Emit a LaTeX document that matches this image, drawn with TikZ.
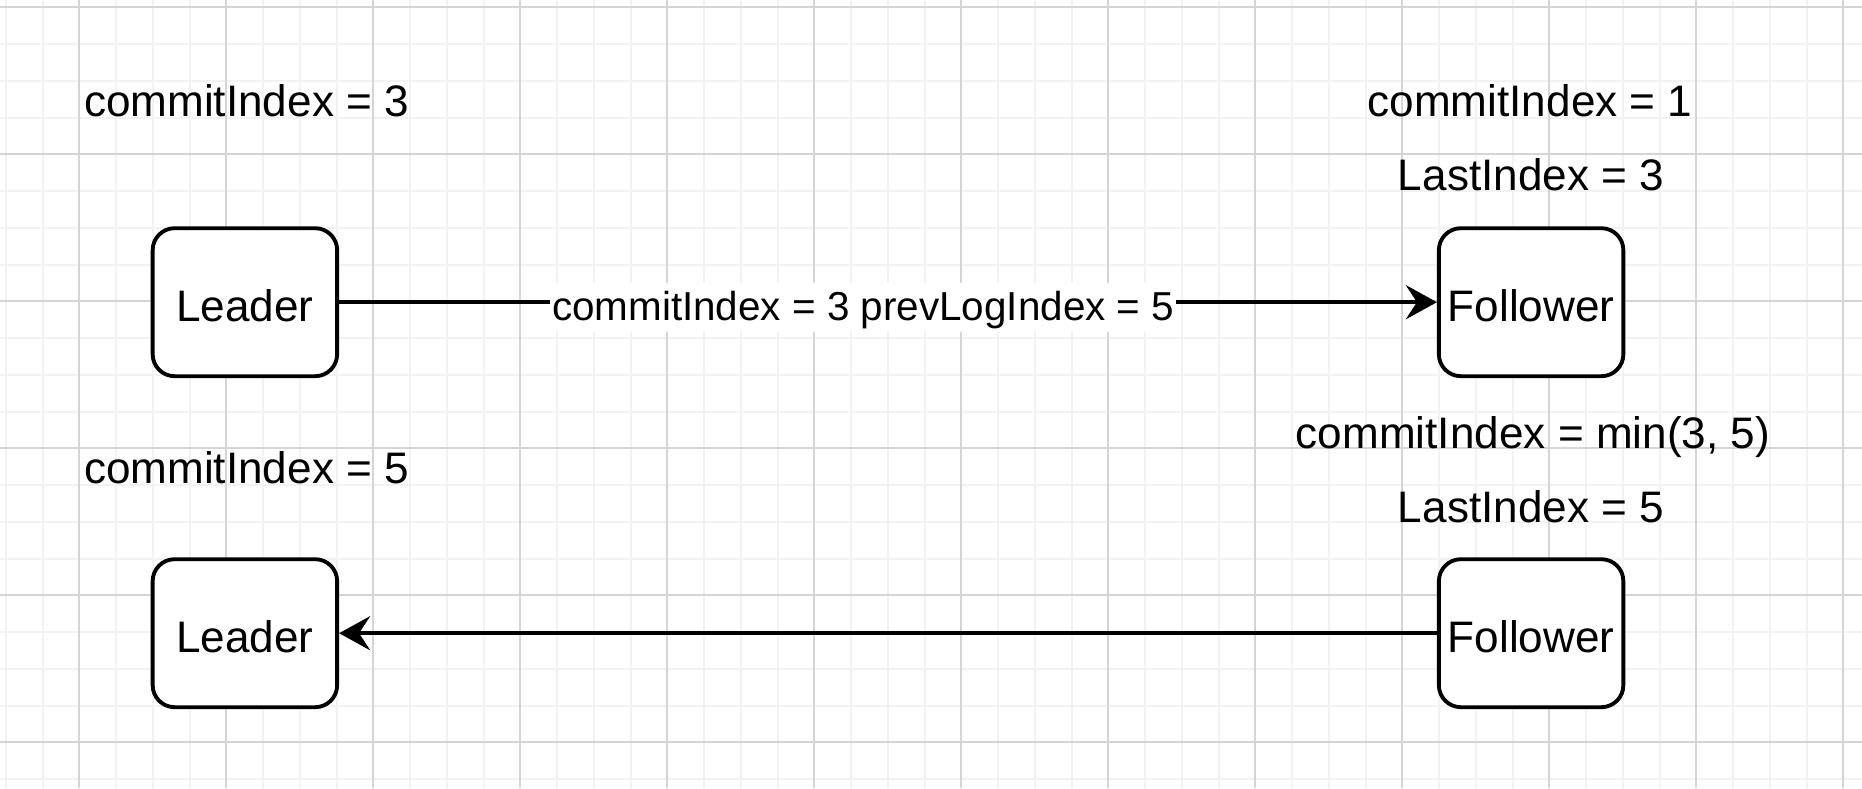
\documentclass[tikz,border=0pt]{standalone}
\usepackage{fontspec}
\setmainfont{Liberation Sans}
\usetikzlibrary{arrows.meta}
\definecolor{gridminor}{RGB}{242,242,242}
\definecolor{gridmajor}{RGB}{213,213,213}

\begin{document}
\begin{tikzpicture}[x=1cm,y=-1cm,
  srv/.style={draw,line width=1.1pt,rounded corners=0.22cm,fill=white,
    minimum width=1.845cm,minimum height=1.48cm,inner sep=0pt,
    text height=0.42cm,text depth=0.026cm,font=\fontsize{12.55pt}{14pt}\selectfont},
  info/.style={anchor=base,inner sep=0pt,font=\fontsize{12.55pt}{14pt}\selectfont},
  msg/.style={anchor=base,fill=white,inner xsep=0.5pt,inner ysep=0.02cm,
    text height=0.36cm,text depth=0.09cm,font=\fontsize{11.5pt}{13pt}\selectfont},
  flow/.style={line width=1.1pt,-{Stealth[length=0.31cm,width=0.34cm,inset=0.11cm]}}]
\useasboundingbox (0,0) rectangle (18.62,7.88);
\fill[white] (0,0) rectangle (18.62,7.88);
% grid
\foreach \i in {0,...,50}{
  \pgfmathsetmacro{\gx}{0.058+0.3675*\i}
  \draw[gridminor,line width=0.55pt] (\gx,0) -- (\gx,7.88);
}
\foreach \j in {0,...,21}{
  \pgfmathsetmacro{\gy}{0.073+0.3675*\j}
  \draw[gridminor,line width=0.55pt] (0,\gy) -- (18.62,\gy);
}
\foreach \i in {0,...,12}{
  \pgfmathsetmacro{\gx}{0.793+1.47*\i}
  \draw[gridmajor,line width=0.55pt] (\gx,0) -- (\gx,7.88);
}
\foreach \j in {0,...,5}{
  \pgfmathsetmacro{\gy}{0.073+1.47*\j}
  \draw[gridmajor,line width=0.55pt] (0,\gy) -- (18.62,\gy);
}
%\node at (9.31,0.5) {Raft};
\node[info] (lc1) at (2.465,1.167) {commitIndex = 3};
\node[info] (fc1) at (15.30,1.167) {commitIndex = 1};
\node[info] (fl1) at (15.31,1.90) {LastIndex = 3};
\node[info] (fc2) at (15.33,4.483) {commitIndex = min(3, 5)};
\node[info] (fl2) at (15.31,5.227) {LastIndex = 5};
\node[info] (lc2) at (2.465,4.833) {commitIndex = 5};
\node[srv] (l1) at (2.449,3.022) {Leader};
\node[srv] (f1) at (15.311,3.022) {Follower};
\node[srv] (l2) at (2.449,6.332) {Leader};
\node[srv] (f2) at (15.311,6.332) {Follower};
\draw[flow] (l1) -- node[msg,pos=0.4774,yshift=-0.183cm] {commitIndex = 3 prevLogIndex = 5} (f1);
\draw[flow] (f2) -- (l2);
\end{tikzpicture}
\end{document}
